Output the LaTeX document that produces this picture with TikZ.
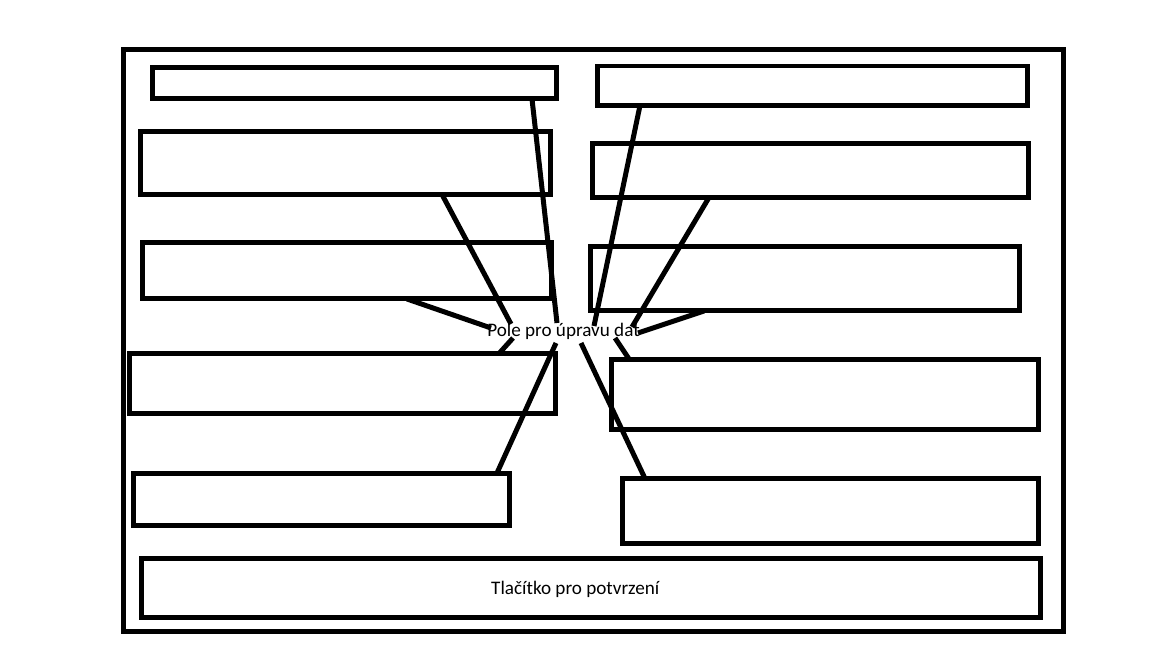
\documentclass[tikz,border=0pt]{standalone}
\usepackage{fontspec}
\setmainfont{Carlito}
\usetikzlibrary{calc}

\begin{document}
\begin{tikzpicture}[
  x=0.02cm, y=-0.02cm,
  field/.style={draw, line width=0.1cm, inner sep=0pt, outer sep=0pt, rectangle},
  spoke/.style={line width=0.1cm},
  lbl/.style={font=\fontsize{10.9}{12}\selectfont, anchor=base, inner sep=0pt}
]
  \useasboundingbox (0,0) rectangle (1152,648);

  % window frame
  \node[field, minimum width=18.8cm, minimum height=11.66cm] (frame) at (593.5,340.5) {};

  % left column
  \node[field, minimum width=8.08cm, minimum height=0.63cm] (l1) at (354.5,83.25) {};
  \node[field, minimum width=8.2cm, minimum height=1.27cm] (l2) at (345.5,162.75) {};
  \node[field, minimum width=8.2cm, minimum height=1.13cm] (l3) at (347,270.75) {};
  \node[field, minimum width=8.53cm, minimum height=1.21cm] (l4) at (342.75,383.75) {};
  \node[field, minimum width=7.53cm, minimum height=1.05cm] (l5) at (321.75,499.25) {};

  % right column
  \node[field, minimum width=8.6cm, minimum height=0.79cm] (r1) at (812.5,85.75) {};
  \node[field, minimum width=8.74cm, minimum height=1.08cm] (r2) at (810.5,170.5) {};
  \node[field, minimum width=8.58cm, minimum height=1.3cm] (r3) at (805,278.5) {};
  \node[field, minimum width=8.56cm, minimum height=1.42cm] (r4) at (825,394.5) {};
  \node[field, minimum width=8.33cm, minimum height=1.3cm] (r5) at (830.75,511) {};

  % confirm button
  \node[field, minimum width=17.98cm, minimum height=1.2cm] (ok) at (591,588) {};
  \node[lbl] (oktext) at (575.3,594) {Tlačítko pro potvrzení};

  % label in the middle
  \node[lbl] (edit) at (563.5,337) {Pole pro úpravu dat};

  \coordinate (e1) at (557,323);
  \coordinate (e2) at (594,326);
  \coordinate (e3) at (511,324);
  \coordinate (e4) at (632,327);
  \coordinate (e5) at (491,328);
  \coordinate (e6) at (638,333);
  \coordinate (e7) at (513,338);
  \coordinate (e8) at (615,338);
  \coordinate (e9) at (556,343);
  \coordinate (e10) at (581,343);

  % spokes above the label
  \draw[spoke] (532,0 |- l1.south) -- (e1);
  \draw[spoke] (640,0 |- r1.south) -- (e2);
  \draw[spoke] (442,0 |- l2.south) -- (e3);
  \draw[spoke] (709,0 |- r2.south) -- (e4);
  \draw[spoke] (407,0 |- l3.south) -- (e5);
  \draw[spoke] (704,0 |- r3.south) -- (e6);

  % spokes below the label
  \draw[spoke] (e7) -- (499,0 |- l4.north);
  \draw[spoke] (e8) -- (629,0 |- r4.north);
  \draw[spoke] (e9) -- (497,0 |- l5.north);
  \draw[spoke] (e10) -- (645,0 |- r5.north);
\end{tikzpicture}
\end{document}
